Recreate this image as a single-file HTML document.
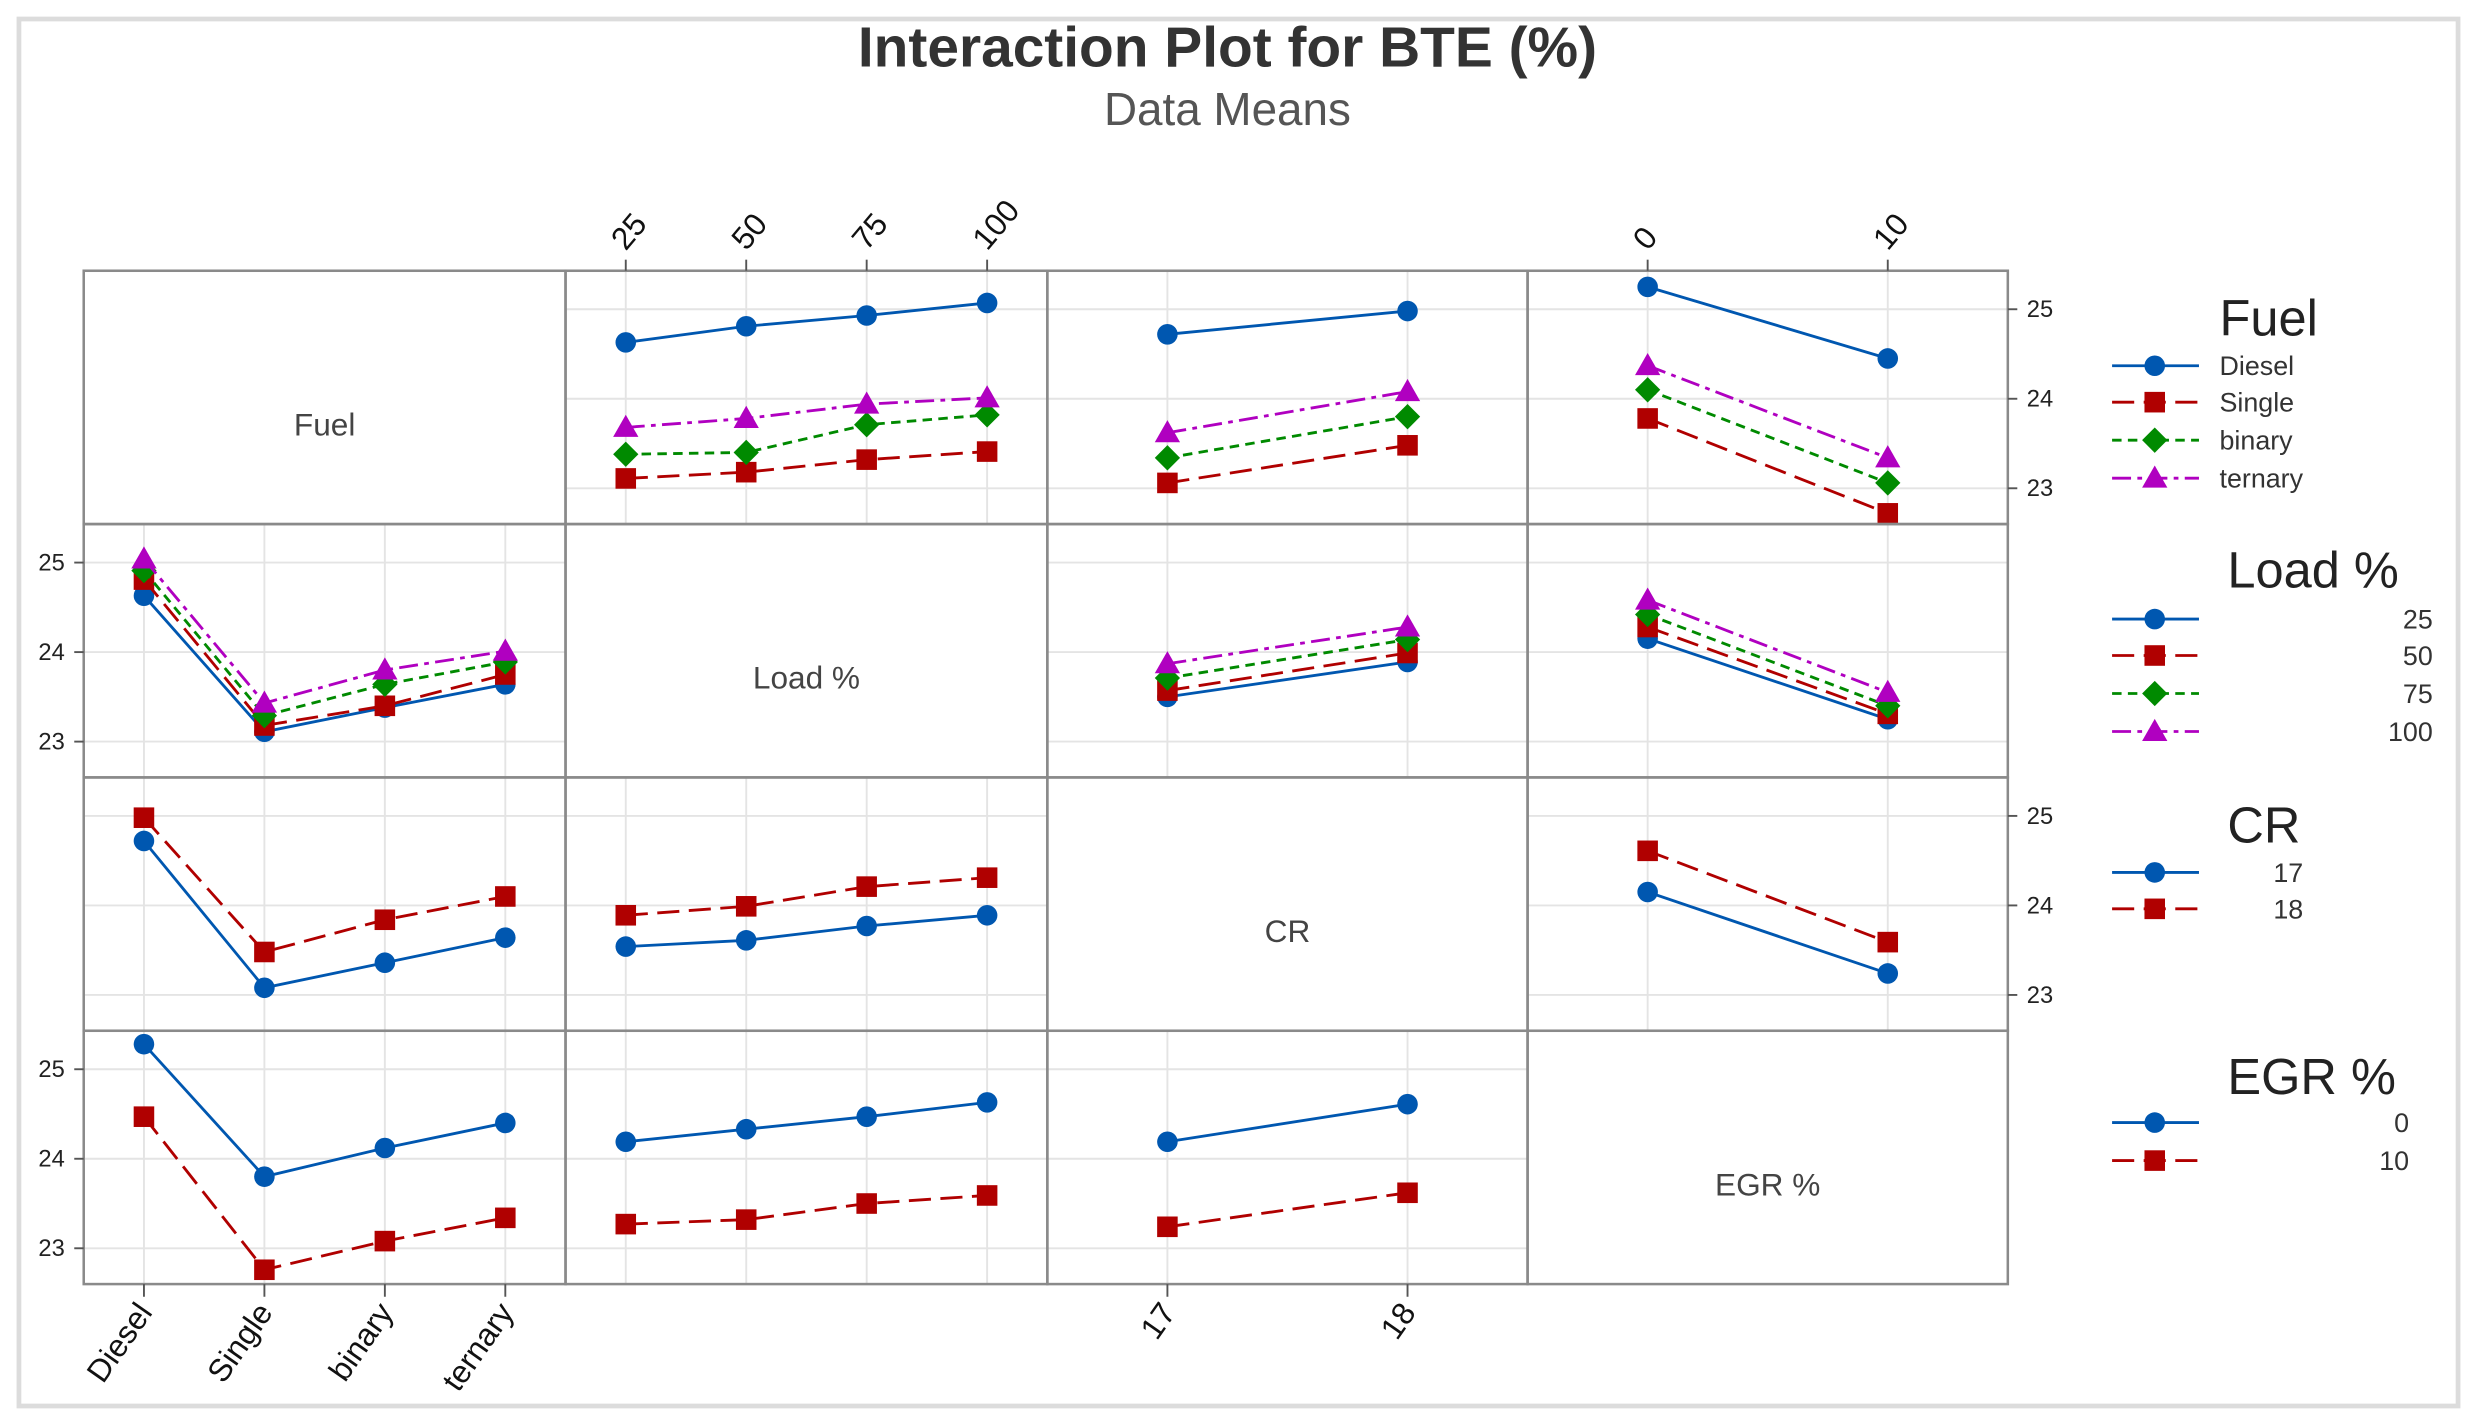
<!DOCTYPE html>
<html><head><meta charset="utf-8"><style>
html,body{margin:0;padding:0;background:#fff;}
svg{display:block;font-family:"Liberation Sans",sans-serif;}
</style></head><body>
<svg id="chart" width="2477" height="1425" viewBox="0 0 1568 900" preserveAspectRatio="none" xmlns="http://www.w3.org/2000/svg">
<rect x="12" y="12" width="1544" height="876" fill="#fff" stroke="#dcdcdc" stroke-width="3"/>
<text x="777" y="42" text-anchor="middle" font-size="36" font-weight="bold" fill="#333">Interaction Plot for BTE (%)</text>
<text x="777" y="79" text-anchor="middle" font-size="29" fill="#555">Data Means</text>
<g id="plots"></g>
</svg>
<script>
// factor levels
const factorNames = ["Fuel","Load %","CR","EGR %"];
const fuelLevels = ["Diesel","Single","binary","ternary"];
const loadLevels = ["25","50","75","100"];
const crLevels = ["17","18"];
const egrLevels = ["0","10"];
const yTicks = [23,24,25];
// Row Fuel
const fuel_by_load = [[24.63,24.81,24.93,25.07],[23.11,23.18,23.32,23.41],[23.38,23.40,23.71,23.82],[23.68,23.78,23.94,24.01]];
const fuel_by_cr = [[24.72,24.98],[23.06,23.48],[23.34,23.80],[23.62,24.08]];
const fuel_by_egr = [[25.25,24.45],[23.78,22.72],[24.10,23.06],[24.37,23.34]];
// Row Load
const load_by_fuel = [[24.63,23.11,23.38,23.64],[24.81,23.18,23.40,23.75],[24.91,23.29,23.64,23.89],[25.04,23.43,23.80,24.01]];
const load_by_cr = [[23.50,23.89],[23.57,23.99],[23.71,24.14],[23.87,24.28]];
const load_by_egr = [[24.15,23.25],[24.28,23.31],[24.42,23.40],[24.58,23.55]];
// Row CR
const cr_by_fuel = [[24.72,23.08,23.36,23.64],[24.98,23.48,23.84,24.10]];
const cr_by_load = [[23.54,23.61,23.77,23.89],[23.89,23.99,24.21,24.31]];
const cr_by_egr = [[24.15,23.24],[24.61,23.59]];
// Row EGR
const egr_by_fuel = [[25.28,23.80,24.12,24.40],[24.47,22.76,23.08,23.34]];
const egr_by_load = [[24.19,24.33,24.47,24.63],[23.27,23.32,23.50,23.59]];
const egr_by_cr = [[24.19,24.61],[23.24,23.62]];

const levels=[fuelLevels,loadLevels,crLevels,egrLevels];
const data=[[null,fuel_by_load,fuel_by_cr,fuel_by_egr],[load_by_fuel,null,load_by_cr,load_by_egr],[cr_by_fuel,cr_by_load,null,cr_by_egr],[egr_by_fuel,egr_by_load,egr_by_cr,null]];
const NS="http://www.w3.org/2000/svg";
const g=document.getElementById('plots');
const colX=[53,358,663,967,1271], rowY=[171,331,491,651,811];
const colors=["#0057b0","#b00000","#008a00","#b000c0"];
const dashes=["","14,6","6,4","12,4,3,4"];
const yMin=22.6,yMax=25.43;
function mk(tag,attrs,parent){const e=document.createElementNS(NS,tag);for(const k in attrs)e.setAttribute(k,attrs[k]);(parent||g).appendChild(e);return e;}
function xPos(c,i){const n=levels[c].length;const l=colX[c],w=colX[c+1]-colX[c];const pad=w*(n===2?0.25:0.125);return l+pad+(w-2*pad)*i/(n-1);}
function yPos(r,v){return rowY[r+1]-(v-yMin)/(yMax-yMin)*(rowY[r+1]-rowY[r]);}
function marker(k,x,y,parent){
  let e;
  if(k===0)e=mk('circle',{cx:x,cy:y,r:6.5,fill:colors[0]},parent);
  else if(k===1)e=mk('rect',{x:x-6.5,y:y-6.5,width:13,height:13,fill:colors[1]},parent);
  else if(k===2)e=mk('polygon',{points:`${x},${y-8} ${x+8},${y} ${x},${y+8} ${x-8},${y}`,fill:colors[2]},parent);
  else e=mk('polygon',{points:`${x},${y-8} ${x+8},${y+6} ${x-8},${y+6}`,fill:colors[3]},parent);
  return e;
}
for(let r=0;r<4;r++)for(let c=0;c<4;c++){
  const pg=mk('g',{});
  
  
  const x0=colX[c],y0=rowY[r],w=colX[c+1]-x0,h=rowY[r+1]-y0;
  if(r===c){
    const t=mk('text',{x:x0+w/2,y:y0+h/2+24,'text-anchor':'middle','font-size':20,fill:'#444'},pg);
    t.textContent=factorNames[r];
    
    
  } else {
    levels[c].forEach((_,i)=>{const x=xPos(c,i);mk('line',{x1:x,x2:x,y1:y0,y2:y0+h,stroke:'#e4e4e4','stroke-width':1.2},pg);});
    yTicks.forEach(v=>{const y=yPos(r,v);mk('line',{x1:x0,x2:x0+w,y1:y,y2:y,stroke:'#e4e4e4','stroke-width':1.2},pg);});
    const series=data[r][c];
    series.forEach((vals,k)=>{
      const pts=vals.map((v,i)=>xPos(c,i)+','+yPos(r,v)).join(' ');
      const pl=mk('polyline',{points:pts,fill:'none',stroke:colors[k],'stroke-width':1.8,'stroke-dasharray':dashes[k]},pg);
      
      
      vals.forEach((v,i)=>{const m=marker(k,xPos(c,i),yPos(r,v),pg);
        
        });
    });
  }
}
for(let r=0;r<4;r++)for(let c=0;c<4;c++)mk('rect',{x:colX[c],y:rowY[r],width:colX[c+1]-colX[c],height:rowY[r+1]-rowY[r],fill:'none',stroke:'#8a8a8a','stroke-width':1.6});
for(let r=0;r<4;r++){
  const left=(r%2===1);
  yTicks.forEach(v=>{
    const y=yPos(r,v);
    const xe=left?colX[0]:colX[4];
    mk('line',{x1:xe,x2:left?xe-6:xe+6,y1:y,y2:y,stroke:'#555','stroke-width':1.2});
    const t=mk('text',{x:left?xe-12:xe+12,y:y+5,'text-anchor':left?'end':'start','font-size':15,fill:'#222'});
    t.textContent=v;
    
    
  });
}
for(let c=0;c<4;c++){
  const top=(c%2===1);
  levels[c].forEach((lab,i)=>{
    const x=xPos(c,i);
    if(top){
      mk('line',{x1:x,x2:x,y1:rowY[0],y2:rowY[0]-7,stroke:'#555','stroke-width':1.2});
      const t=mk('text',{x:x,y:rowY[0]-12,'font-size':20,fill:'#111',transform:`rotate(-50 ${x} ${rowY[0]-12})`});
      t.textContent=lab;
      
      
    } else {
      mk('line',{x1:x,x2:x,y1:rowY[4],y2:rowY[4]+8,stroke:'#555','stroke-width':1.2});
      const t=mk('text',{x:x+6,y:rowY[4]+18,'text-anchor':'end','font-size':20,fill:'#111',transform:`rotate(-55 ${x+6} ${rowY[4]+18})`});
      t.textContent=lab;
      
      
    }
  });
}
const legTitleY=[212,371,532,691];
const legEntryY=[[231,254,278,302],[391,414,438,462],[551,574],[709,733]];
const legTextX=[1405,1540,1458,1525];
for(let r=0;r<4;r++){
  const lg=mk('g',{});
  
  
  const tt=mk('text',{x:r===0?1405:1410,y:legTitleY[r],'font-size':32,fill:'#222'},lg);
  tt.textContent=factorNames[r];
  levels[r].forEach((lab,k)=>{
    const y=legEntryY[r][k];
    mk('line',{x1:1337,x2:1392,y1:y,y2:y,stroke:colors[k],'stroke-width':1.8,'stroke-dasharray':dashes[k]},lg);
    marker(k,1364,y,lg);
    const t=mk('text',{x:legTextX[r],y:y+6,'text-anchor':r===0?'start':'end','font-size':17,fill:'#333'},lg);
    t.textContent=lab;
    
    
  });
}
</script>
</body></html>
